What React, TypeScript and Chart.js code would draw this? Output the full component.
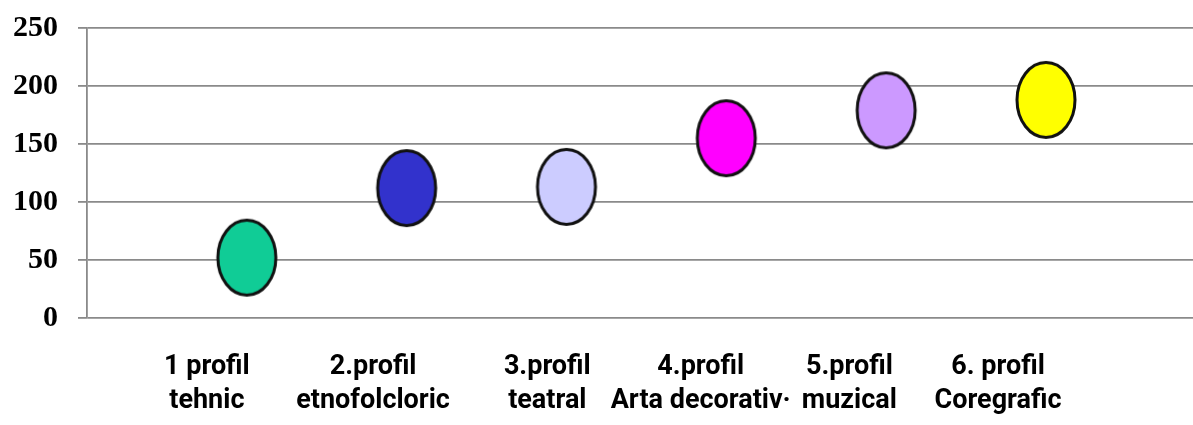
import React, { useEffect, useRef } from "react";
import { Chart, registerables } from "chart.js";

Chart.register(...registerables);

const categories: string[][] = [
  ["1 profil", "tehnic"],
  ["2.profil", "etnofolcloric"],
  ["3.profil", "teatral"],
  ["4.profil", "Arta decorativ·"],
  ["5.profil", "muzical"],
  ["6. profil", "Coregrafic"],
];
const values: number[] = [52, 112, 113, 155, 179, 188];
const pointColors: string[] = ["#10CC96", "#3232CC", "#CCCCFF", "#FF00FF", "#CC99FF", "#FFFF00"];
const yTicks: number[] = [0, 50, 100, 150, 200, 250];
// x-axis values (in the chart's own x units) where the category captions sit
const captionAt: number[] = [0.75, 1.79, 2.88, 3.84, 4.77, 5.7];

function makeEllipse(fill: string): HTMLCanvasElement {
  const c = document.createElement("canvas");
  c.width = 66;
  c.height = 82;
  const ctx = c.getContext("2d")!;
  ctx.beginPath();
  ctx.ellipse(33, 41, 29, 37.5, 0, 0, Math.PI * 2);
  ctx.fillStyle = fill;
  ctx.fill();
  ctx.lineWidth = 3;
  ctx.strokeStyle = "#111";
  ctx.stroke();
  return c;
}

export default function App() {
  const ref = useRef<HTMLCanvasElement | null>(null);
  useEffect(() => {
    if (!ref.current) return;
    const styles = pointColors.map(makeEllipse);
    const chart = new Chart(ref.current, {
      type: "scatter",
      data: {
        datasets: [
          {
            data: values.map((v, i) => ({ x: i + 1, y: v })),
            pointStyle: styles as any,
            pointRadius: 30,
            pointHoverRadius: 30,
            clip: false as any,
          },
        ],
      },
      options: {
        animation: false,
        responsive: true,
        maintainAspectRatio: false,
        layout: { autoPadding: false, padding: { left: 0, top: 28, right: 0, bottom: 0 } },
        plugins: { legend: { display: false }, tooltip: { enabled: false } },
        scales: {
          x: {
            type: "linear",
            min: 0,
            max: 6.92,
            grid: { display: false, drawTicks: false },
            border: { display: false },
            afterBuildTicks: (scale: any) => {
              scale.ticks = captionAt.map((v) => ({ value: v }));
            },
            afterFit: (scale: any) => {
              scale.height = 107;
              scale.paddingLeft = 0;
              scale.paddingRight = 0;
            },
            ticks: {
              autoSkip: false,
              maxRotation: 0,
              padding: 33,
              color: "#000",
              font: { family: "Roboto", weight: "bold", size: 27, lineHeight: 1.24 },
              callback: (_v: any, i: number) => categories[i],
            },
          },
          y: {
            min: 0,
            max: 250,
            afterBuildTicks: (scale: any) => {
              scale.ticks = yTicks.map((v) => ({ value: v }));
            },
            afterFit: (scale: any) => {
              scale.width = 87;
              scale.paddingTop = 0;
              scale.paddingBottom = 0;
            },
            grid: { color: "#8a8a8a", lineWidth: 1.8, tickLength: 9 },
            border: { display: true, color: "#8a8a8a", width: 1.8 },
            ticks: {
              padding: 20,
              color: "#000",
              font: { family: "Liberation Serif", weight: "bold", size: 30 },
            },
          },
        },
      },
    });
    return () => chart.destroy();
  }, []);
  return (
    <div style={{ position: "absolute", left: 0, top: 0, width: 1193, height: 425 }}>
      <canvas ref={ref} />
    </div>
  );
}
